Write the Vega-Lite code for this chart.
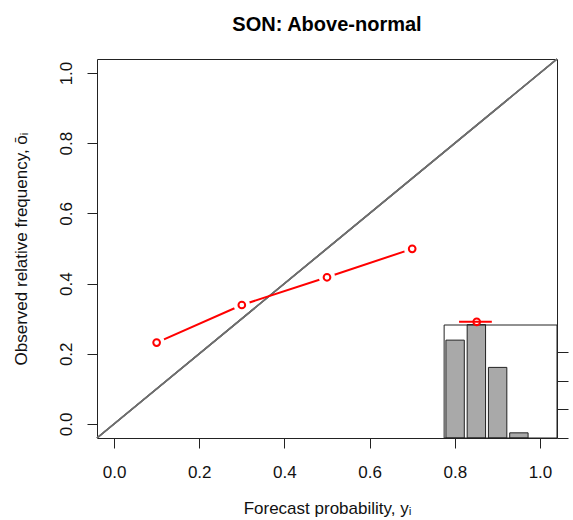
{
  "$schema": "https://vega.github.io/schema/vega-lite/v6.json",
  "width": 460,
  "height": 379,
  "autosize": {"type": "none"},
  "padding": {"left": 97, "top": 59, "right": 16, "bottom": 82},
  "background": "white",
  "config": {
    "view": {"stroke": "#222222", "strokeWidth": 1},
    "font": "Liberation Sans"
  },
  "title": {
    "text": "SON: Above-normal",
    "fontSize": 20,
    "fontWeight": "bold",
    "font": "Liberation Sans",
    "color": "#000000",
    "anchor": "middle",
    "frame": "group",
    "baseline": "alphabetic",
    "offset": 7
  },
  "datasets": {
    "reliability": [
      {"p": 0.1, "o": 0.232},
      {"p": 0.3, "o": 0.339},
      {"p": 0.5, "o": 0.418},
      {"p": 0.7, "o": 0.499}
    ],
    "sharpness": [
      {"p": 0.1, "freq": 0.341},
      {"p": 0.3, "freq": 0.395},
      {"p": 0.5, "freq": 0.246},
      {"p": 0.7, "freq": 0.018}
    ],
    "marker": [
      {"p": 0.8515, "o": 0.291, "lo": 0.81, "hi": 0.887}
    ]
  },
  "layer": [
    {
      "data": {"name": "sharpness"},
      "mark": {"type": "bar", "width": 18.4, "fill": "#a9a9a9", "stroke": "#222222", "strokeWidth": 1},
      "encoding": {
        "x": {
          "field": "p",
          "type": "quantitative",
          "scale": {"domain": [-3.222, 1.0115], "nice": false, "zero": false},
          "axis": null
        },
        "y": {
          "field": "freq",
          "type": "quantitative",
          "scale": {"domain": [0, 1.3206], "nice": false, "zero": true},
          "axis": {
            "orient": "right",
            "values": [0, 0.1, 0.2, 0.3],
            "labels": false,
            "domain": false,
            "grid": false,
            "ticks": true,
            "tickSize": 11,
            "tickColor": "#222222",
            "tickWidth": 1,
            "title": null
          }
        }
      }
    },
    {
      "layer": [
        {
          "data": {"name": "reliability"},
          "mark": {"type": "rule", "color": "#6e6e6e", "strokeWidth": 1.5},
          "encoding": {
            "x": {
              "datum": -0.04,
              "type": "quantitative",
              "scale": {"domain": [-0.04, 1.04], "nice": false, "zero": false},
              "axis": {
                "orient": "bottom",
                "values": [0, 0.2, 0.4, 0.6, 0.8, 1.0],
                "format": ".1f",
                "domain": false,
                "grid": false,
                "tickSize": 10,
                "tickColor": "#222222",
                "tickWidth": 1,
                "labelFont": "Liberation Sans",
                "labelFontSize": 17,
                "labelColor": "#111111",
                "labelPadding": 16,
                "labelFlush": false,
                "labelOverlap": false,
                "title": "Forecast probability, yᵢ",
                "titleFont": "Liberation Sans",
                "titleFontSize": 17,
                "titleFontWeight": "normal",
                "titleColor": "#111111",
                "titlePadding": 20
              }
            },
            "y": {
              "datum": -0.04,
              "type": "quantitative",
              "scale": {"domain": [-0.04, 1.04], "nice": false, "zero": false},
              "axis": {
                "orient": "left",
                "values": [0, 0.2, 0.4, 0.6, 0.8, 1.0],
                "format": ".1f",
                "domain": false,
                "grid": false,
                "tickSize": 10,
                "tickColor": "#222222",
                "tickWidth": 1,
                "labelAngle": -90,
                "labelAlign": "center",
                "labelBaseline": "bottom",
                "labelFont": "Liberation Sans",
                "labelFontSize": 17,
                "labelColor": "#111111",
                "labelPadding": 12,
                "labelFlush": false,
                "labelOverlap": false,
                "title": "Observed relative frequency, ōᵢ",
                "titleFont": "Liberation Sans",
                "titleFontSize": 17,
                "titleFontWeight": "normal",
                "titleColor": "#111111",
                "titlePadding": 27
              }
            },
            "x2": {"datum": 1.04},
            "y2": {"datum": 1.04}
          }
        },
        {
          "data": {"name": "marker"},
          "mark": {"type": "rect", "fillOpacity": 0, "stroke": "#222222", "strokeWidth": 1},
          "encoding": {
            "x": {"datum": 0.775, "type": "quantitative"},
            "x2": {"datum": 1.04},
            "y": {"datum": -0.04, "type": "quantitative"},
            "y2": {"datum": 0.282}
          }
        },
        {
          "data": {"name": "reliability"},
          "mark": {"type": "line", "color": "#ff0000", "strokeWidth": 2},
          "encoding": {
            "x": {"field": "p", "type": "quantitative"},
            "y": {"field": "o", "type": "quantitative"}
          }
        },
        {
          "data": {"name": "reliability"},
          "mark": {"type": "point", "shape": "circle", "filled": true, "color": "#ffffff", "opacity": 1, "size": 270},
          "encoding": {
            "x": {"field": "p", "type": "quantitative"},
            "y": {"field": "o", "type": "quantitative"}
          }
        },
        {
          "data": {"name": "reliability"},
          "mark": {"type": "point", "shape": "circle", "filled": false, "color": "#ff0000", "opacity": 1, "strokeWidth": 2, "size": 45},
          "encoding": {
            "x": {"field": "p", "type": "quantitative"},
            "y": {"field": "o", "type": "quantitative"}
          }
        },
        {
          "data": {"name": "marker"},
          "mark": {"type": "rule", "color": "#ff0000", "strokeWidth": 2},
          "encoding": {
            "x": {"field": "lo", "type": "quantitative"},
            "x2": {"field": "hi"},
            "y": {"field": "o", "type": "quantitative"}
          }
        },
        {
          "data": {"name": "marker"},
          "mark": {"type": "point", "shape": "circle", "filled": false, "color": "#ff0000", "opacity": 1, "strokeWidth": 2, "size": 45},
          "encoding": {
            "x": {"field": "p", "type": "quantitative"},
            "y": {"field": "o", "type": "quantitative"}
          }
        }
      ]
    }
  ],
  "resolve": {
    "scale": {"x": "independent", "y": "independent"}
  }
}
